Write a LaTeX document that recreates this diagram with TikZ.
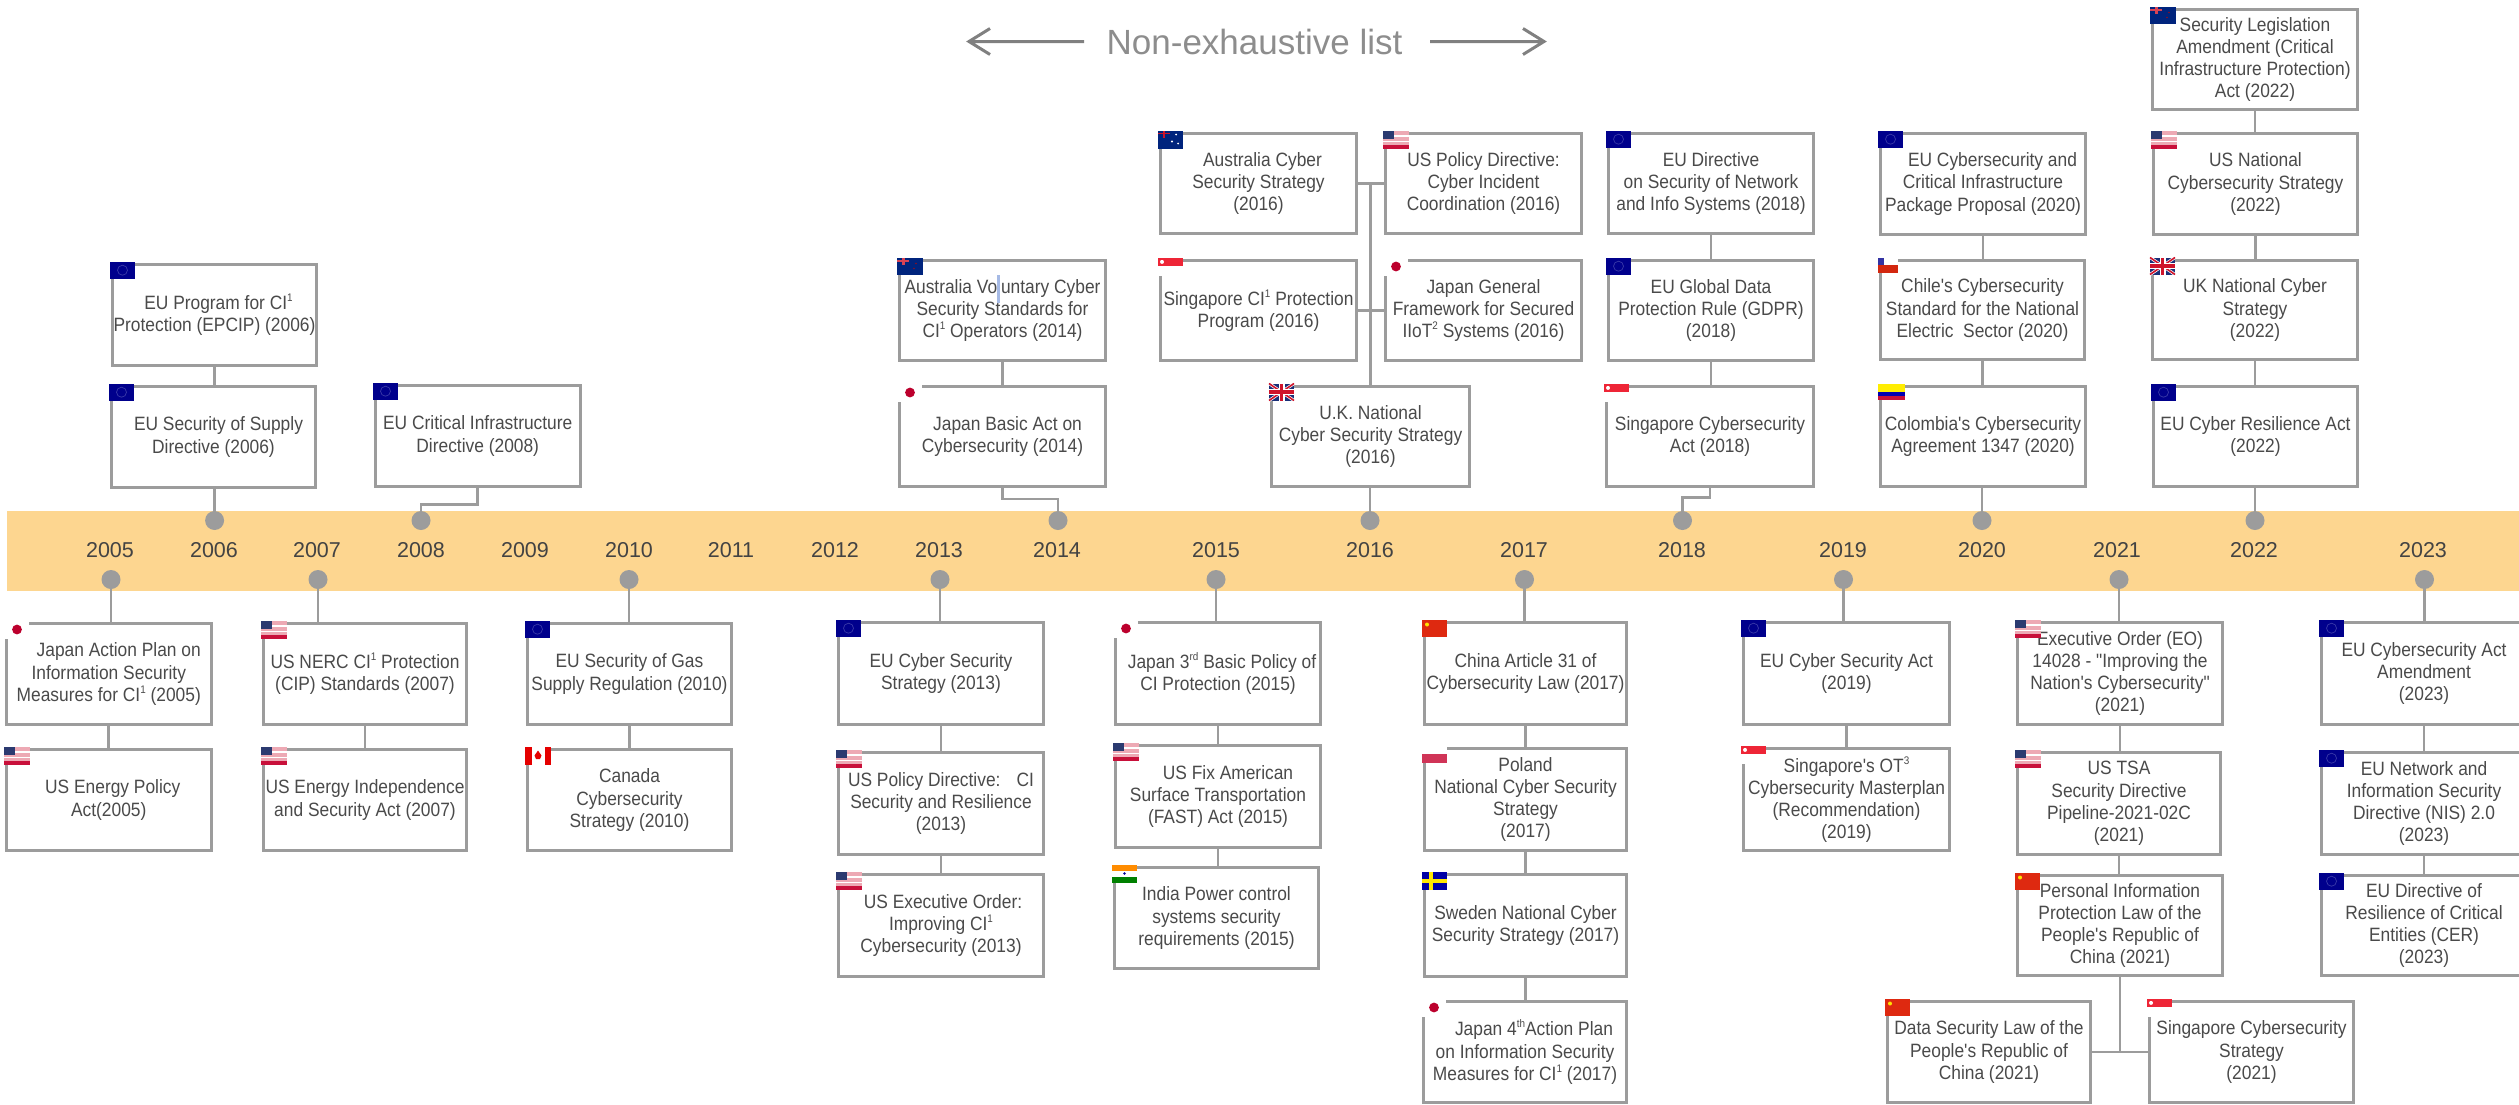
\documentclass[tikz,border=0pt]{standalone}
\usepackage{fontspec}
\setmainfont{Liberation Sans}
\newfontfamily\boxfont[FakeStretch=0.9]{Liberation Sans}
\newfontfamily\yearfont{Liberation Sans}
\newfontfamily\titlefont{Liberation Sans}
\definecolor{bandc}{HTML}{FDD690}
\definecolor{linec}{HTML}{9C9C9C}
\definecolor{txtc}{HTML}{4A4A4A}
\definecolor{eublue}{HTML}{00008C}
\definecolor{eustar}{HTML}{3A3AA8}
\definecolor{usred}{HTML}{C8103A}
\definecolor{uspink}{HTML}{EDA9B4}
\definecolor{usblue}{HTML}{2B3A70}
\definecolor{jpred}{HTML}{BC002D}
\definecolor{sgred}{HTML}{EE2536}
\definecolor{cnred}{HTML}{DE2910}
\definecolor{aublue}{HTML}{00247D}
\definecolor{ukblue}{HTML}{1A2F78}
\definecolor{ukred}{HTML}{CF142B}
\tikzset{
  x=1pt,y=-1pt,
  pbox/.style={draw=linec,line width=2.8pt,fill=white,inner sep=0pt,align=center,text=txtc,
    font=\boxfont\fontsize{19.3}{22.2}\selectfont},
  conn/.style={draw=linec,line width=2.6pt},
  dotm/.style={circle,fill=linec,draw=none,minimum size=19pt,inner sep=0pt},
  yearlab/.style={text=txtc!90!black,inner sep=0pt,font=\yearfont\fontsize{21.5}{24}\selectfont},
  flageu/.pic={\fill[eublue](0,0)rectangle(25,17.5);\draw[eustar,line width=.7pt](12.5,8.7)circle[radius=5];},
  flagus/.pic={\fill[uspink](0,0)rectangle(25.5,18);\fill[white](0,4.4)rectangle(25.5,6.2);\fill[white](0,10)rectangle(25.5,11.8);\fill[usred](0,14.5)rectangle(25.5,18);\fill[usblue](0,0)rectangle(10.5,8.5);},
  flagjp/.pic={\fill[white](0,0)rectangle(25,18);\fill[jpred](13,9)circle[radius=4.9];},
  flagsg/.pic={\fill[white](0,0)rectangle(25,18);\fill[sgred](0,0)rectangle(25,8.8);\fill[white](4,4.4)circle[radius=2];},
  flagcn/.pic={\fill[cnred](0,0)rectangle(25,17.5);\fill[yellow!85!orange](5,5)circle[radius=2];},
  flagpl/.pic={\fill[white](0,0)rectangle(25,8.5);\fill[usred!85!white](0,8.5)rectangle(25,17);},
  flagcl/.pic={\fill[white](0,0)rectangle(20,7.5);\fill[cnred!95!black](0,7.5)rectangle(20,15);\fill[eublue!80!white](0,0)rectangle(6,7.5);},
  flagco/.pic={\fill[yellow!95!orange](0,0)rectangle(27,8);\fill[blue!70!black](0,8)rectangle(27,12);\fill[usred](0,12)rectangle(27,16);},
  flagca/.pic={\fill[white](0,0)rectangle(26,18);\fill[red!90!black](0,0)rectangle(6.5,18);\fill[red!90!black](19.5,0)rectangle(26,18);\fill[red!90!black](13,4)--(16.5,9)--(15,12.5)--(11,12.5)--(9.5,9)--cycle;},
  flagin/.pic={\fill[orange!90!yellow](0,0)rectangle(25,6);\fill[white](0,6)rectangle(25,12);\fill[green!50!black](0,12)rectangle(25,18);\fill[blue!60!black](12.5,9)circle[radius=1.4];},
  flagse/.pic={\fill[blue!65!black](0,0)rectangle(25,18);\fill[yellow!90!orange](7,0)rectangle(11,18);\fill[yellow!90!orange](0,7)rectangle(25,11);},
  flaguk/.pic={\fill[ukblue](0,0)rectangle(25,17);\draw[white,line width=3pt](0,0)--(25,17)(25,0)--(0,17);\draw[ukred,line width=1.6pt](0,0)--(25,17)(25,0)--(0,17);\fill[white](9.5,0)rectangle(15.5,17);\fill[white](0,5.5)rectangle(25,11.5);\fill[ukred](10.7,0)rectangle(14.3,17);\fill[ukred](0,6.7)rectangle(25,10.3);},
  flagau/.pic={\fill[aublue](0,0)rectangle(25,18);\fill[ukred](0,2.2)rectangle(12,3.8);\fill[ukred](5,0)rectangle(7,7);\fill[white](18,4)circle[radius=1];\fill[white](14,11)circle[radius=1.2];\fill[white](20,13)circle[radius=1];},
  flagnz/.pic={\fill[aublue](0,0)rectangle(25.5,17.5);\fill[ukred!80!white](0,2.2)rectangle(12,4);\fill[ukred!80!white](5,0)rectangle(7.5,7);\fill[ukred!70!black](19,6)circle[radius=.8];\fill[ukred!70!black](17,11)circle[radius=.8];},
}
\newcommand{\spr}[1]{\raisebox{.42em}{\fontsize{11}{11}\selectfont #1}}
\newcommand{\pb}[7]{%
  \pgfmathsetmacro\cbx{(#2+#4)/2}\pgfmathsetmacro\cby{(#3+#5)/2}%
  \pgfmathsetmacro\cbw{#4-#2-2.8}\pgfmathsetmacro\cbh{#5-#3-2.8}%
  \node[pbox,minimum width=\cbw pt,minimum height=\cbh pt] (#1) at (\cbx,\cby) {#7};%
  \pic at (#2-1,#3-1.5) {#6};%
}
\newcommand{\yr}[2]{\node[yearlab] (y#1) at (#2,550) {#1};}
\begin{document}
\begin{tikzpicture}
\useasboundingbox (0,0) rectangle (2519,1104);
% band
\fill[bandc] (7,510.5) rectangle (2519,591);
% title
\node[inner sep=0pt,text=linec!90!black,font=\titlefont\fontsize{35}{40}\selectfont] (title) at (1254.5,41.5) {Non-exhaustive list};
\coordinate (al1) at (969,41.5);\coordinate (al2) at (1084,41.5);
\coordinate (ar1) at (1430,41.5);\coordinate (ar2) at (1544,41.5);
\draw[draw=gray,line width=3pt,line join=miter] (al2)--(al1) ++(21,-13) -- (al1) -- ++(21,13);
\draw[draw=gray,line width=3pt,line join=miter] (ar1)--(ar2) ++(-21,-13) -- (ar2) -- ++(-21,13);
% year labels
\yr{2005}{110}\yr{2006}{214}\yr{2007}{317}\yr{2008}{421}\yr{2009}{525}\yr{2010}{629}\yr{2011}{731}\yr{2012}{835}
\yr{2013}{939}\yr{2014}{1057}\yr{2015}{1216}\yr{2016}{1370}\yr{2017}{1524}\yr{2018}{1682}\yr{2019}{1843}
\yr{2020}{1982}\yr{2021}{2117}\yr{2022}{2254}\yr{2023}{2423}
% dots above
\foreach \n/\xx in {u2006/214.6,u2008/421,u2014/1058,u2016/1370,u2018/1682.5,u2020/1982,u2022/2255}
  \node[dotm] (\n) at (\xx,520.5) {};
\foreach \n/\xx in {l2005/111,l2007/318,l2010/629,l2013/940,l2015/1216,l2017/1524.5,l2019/1843.5,l2021/2119,l2023/2424.5}
  \node[dotm] (\n) at (\xx,579.5) {};
% upper boxes
\pb{epcip}{111}{263}{318}{367}{flageu}{\hspace*{8pt}EU Program for CI\spr{1}\\Protection (EPCIP) (2006)}
\pb{supply}{110}{385}{317}{489}{flageu}{\hspace*{10pt}EU Security of Supply\\Directive (2006)}
\pb{cid}{374}{384}{581.5}{488}{flageu}{EU Critical Infrastructure\\Directive (2008)}
\pb{auvol}{898}{259}{1107}{362}{flagnz}{Australia Voluntary Cyber\\Security Standards for\\CI\spr{1} Operators (2014)}
\pb{jpbasic}{898}{385}{1107}{488}{flagjp}{\hspace*{10pt}Japan Basic Act on\\Cybersecurity (2014)}
\pb{aucyber}{1159}{132}{1358}{235}{flagau}{\hspace*{8pt}Australia Cyber\\Security Strategy\\(2016)}
\pb{uspol}{1384}{132}{1583}{235}{flagus}{US Policy Directive:\\Cyber Incident\\Coordination (2016)}
\pb{sgci}{1159}{259}{1358}{362}{flagsg}{Singapore CI\spr{1} Protection\\Program (2016)}
\pb{jpgen}{1384}{259}{1583}{362}{flagjp}{Japan General\\Framework for Secured\\IIoT\spr{2} Systems (2016)}
\pb{ukstrat}{1270}{385}{1471}{488}{flaguk}{U.K. National\\Cyber Security Strategy\\(2016)}
\pb{eunis}{1607}{132}{1815}{235}{flageu}{EU Directive\\on Security of Network\\and Info Systems (2018)}
\pb{gdpr}{1607}{259}{1815}{362}{flageu}{EU Global Data\\Protection Rule (GDPR)\\(2018)}
\pb{sgact}{1605}{385}{1815}{488}{flagsg}{Singapore Cybersecurity\\Act (2018)}
\pb{eucip}{1879}{132}{2087}{236}{flageu}{\hspace*{19pt}EU Cybersecurity and\\Critical Infrastructure\\Package Proposal (2020)}
\pb{chile}{1879}{259}{2086}{361}{flagcl}{Chile's Cybersecurity\\Standard for the National\\Electric~ Sector (2020)}
\pb{colombia}{1879}{385}{2087}{488}{flagco}{Colombia's Cybersecurity\\Agreement 1347 (2020)}
\pb{secleg}{2151}{8}{2359}{111}{flagnz}{Security Legislation\\Amendment (Critical\\Infrastructure Protection)\\Act (2022)}
\pb{usnat}{2152}{132}{2359}{236}{flagus}{US National\\Cybersecurity Strategy\\(2022)}
\pb{uknat}{2151}{259}{2359}{361}{flaguk}{UK National Cyber\\Strategy\\(2022)}
\pb{eures}{2152}{385}{2359}{488}{flageu}{EU Cyber Resilience Act\\(2022)}
% lower boxes
\pb{jpaction}{5}{622}{212.5}{726}{flagjp}{\hspace*{20pt}Japan Action Plan on\\Information Security\\Measures for CI\spr{1} (2005)}
\pb{usenergy}{5}{748}{212.5}{852}{flagus}{\hspace*{8pt}US Energy Policy\\Act(2005)}
\pb{nerc}{262}{622}{468}{726}{flagus}{US NERC CI\spr{1} Protection\\(CIP) Standards (2007)}
\pb{usindep}{262}{748}{468}{852}{flagus}{US Energy Independence\\and Security Act (2007)}
\pb{eugas}{526}{622}{733}{726}{flageu}{EU Security of Gas\\Supply Regulation (2010)}
\pb{canada}{526}{748}{733}{852}{flagca}{Canada\\Cybersecurity\\Strategy (2010)}
\pb{eustrat}{837}{621}{1045}{726}{flageu}{EU Cyber Security\\Strategy (2013)}
\pb{uspolci}{837}{751}{1045}{856}{flagus}{US Policy Directive:~~ CI\\Security and Resilience\\(2013)}
\pb{usexec}{837}{873}{1045}{978}{flagus}{\hspace*{4pt}US Executive Order:\\Improving CI\spr{1}\\Cybersecurity (2013)}
\pb{jp3}{1114}{621}{1322}{726}{flagjp}{\hspace*{8pt}Japan 3\spr{rd} Basic Policy of\\CI Protection (2015)}
\pb{usfix}{1114}{744}{1322}{849}{flagus}{\hspace*{20pt}US Fix American\\Surface Transportation\\(FAST) Act (2015)}
\pb{india}{1113}{866}{1320}{970}{flagin}{India Power control\\systems security\\requirements (2015)}
\pb{china31}{1423}{621}{1628}{726}{flagcn}{China Article 31 of\\Cybersecurity Law (2017)}
\pb{poland}{1423}{747}{1628}{852}{flagpl}{Poland\\National Cyber Security\\Strategy\\(2017)}
\pb{sweden}{1423}{873}{1628}{978}{flagse}{Sweden National Cyber\\Security Strategy (2017)}
\pb{jp4}{1422}{1000}{1628}{1104}{flagjp}{\hspace*{18pt}Japan 4\spr{th}Action Plan\\on Information Security\\Measures for CI\spr{1} (2017)}
\pb{eucsa}{1742}{621}{1951}{726}{flageu}{EU Cyber Security Act\\(2019)}
\pb{sgot}{1742}{747}{1951}{852}{flagsg}{Singapore's OT\spr{3}\\Cybersecurity Masterplan\\(Recommendation)\\(2019)}
\pb{eo}{2016}{621}{2224}{726}{flagus}{Executive Order (EO)\\14028 - "Improving the\\Nation's Cybersecurity"\\(2021)}
\pb{tsa}{2016}{751}{2222}{856}{flagus}{US TSA\\Security Directive\\Pipeline-2021-02C\\(2021)}
\pb{pipl}{2016}{874}{2224}{977}{flagcn}{Personal Information\\Protection Law of the\\People's Republic of\\China (2021)}
\pb{dsl}{1886}{1000}{2092}{1104}{flagcn}{Data Security Law of the\\People's Republic of\\China (2021)}
\pb{sgstrat}{2148}{1000}{2355}{1104}{flagsg}{Singapore Cybersecurity\\Strategy\\(2021)}
\pb{euamend}{2320}{621}{2528}{726}{flageu}{EU Cybersecurity Act\\Amendment\\(2023)}
\pb{eunis2}{2320}{751}{2528}{856}{flageu}{EU Network and\\Information Security\\Directive (NIS) 2.0\\(2023)}
\pb{cer}{2320}{874}{2528}{977}{flageu}{EU Directive of\\Resilience of Critical\\Entities (CER)\\(2023)}
% connectors
\draw[conn] (epcip.south) -- (epcip.south |- supply.north);
\draw[conn] (u2006.center) -- (u2006 |- supply.south);
\draw[conn] (cid.south) -- ++(0,16.5) -| (u2008.center);
\draw[conn] (auvol.south) -- (auvol.south |- jpbasic.north);
\draw[conn] (jpbasic.south) -- ++(0,11) -| (u2014.center);
\draw[conn] (aucyber.east) -- (uspol.west);
\draw[conn] (sgci.east) -- (jpgen.west);
\coordinate (vtop) at (ukstrat.north |- uspol.west);
\draw[conn] (vtop) -- (ukstrat.north);
\draw[conn] (u2016.center) -- (u2016 |- ukstrat.south);
\draw[conn] (eunis.south) -- (eunis.south |- gdpr.north);
\draw[conn] (gdpr.south) -- (gdpr.south |- sgact.north);
\draw[conn] (sgact.south) -- ++(0,9.5) -| (u2018.center);
\draw[conn] (eucip.south) -- (eucip.south |- chile.north);
\draw[conn] (chile.south) -- (chile.south |- colombia.north);
\draw[conn] (u2020.center) -- (u2020 |- colombia.south);
\draw[conn] (secleg.south) -- (secleg.south |- usnat.north);
\draw[conn] (usnat.south) -- (usnat.south |- uknat.north);
\draw[conn] (uknat.south) -- (uknat.south |- eures.north);
\draw[conn] (u2022.center) -- (u2022 |- eures.south);
\draw[conn] (l2005.center) -- (l2005 |- jpaction.north);
\draw[conn] (jpaction.south) -- (jpaction.south |- usenergy.north);
\draw[conn] (l2007.center) -- (l2007 |- nerc.north);
\draw[conn] (nerc.south) -- (nerc.south |- usindep.north);
\draw[conn] (l2010.center) -- (l2010 |- eugas.north);
\draw[conn] (eugas.south) -- (eugas.south |- canada.north);
\draw[conn] (l2013.center) -- (l2013 |- eustrat.north);
\draw[conn] (eustrat.south) -- (eustrat.south |- uspolci.north);
\draw[conn] (uspolci.south) -- (uspolci.south |- usexec.north);
\draw[conn] (l2015.center) -- (l2015 |- jp3.north);
\draw[conn] (jp3.south) -- (jp3.south |- usfix.north);
\draw[conn] (usfix.south) -- (usfix.south |- india.north);
\draw[conn] (l2017.center) -- (l2017 |- china31.north);
\draw[conn] (china31.south) -- (china31.south |- poland.north);
\draw[conn] (poland.south) -- (poland.south |- sweden.north);
\draw[conn] (sweden.south) -- (sweden.south |- jp4.north);
\draw[conn] (l2019.center) -- (l2019 |- eucsa.north);
\draw[conn] (eucsa.south) -- (eucsa.south |- sgot.north);
\draw[conn] (l2021.center) -- (l2021 |- eo.north);
\draw[conn] (eo.south) -- (eo.south |- tsa.north);
\draw[conn] (tsa.south) -- (tsa.south |- pipl.north);
\coordinate (pj) at (pipl.south |- dsl.east);
\draw[conn] (pipl.south) -- (pj);
\draw[conn] (dsl.east) -- (sgstrat.west);
\draw[conn] (l2023.center) -- (l2023 |- euamend.north);
\draw[conn] (euamend.south) -- (euamend.south |- eunis2.north);
\draw[conn] (eunis2.south) -- (eunis2.south |- cer.north);
% text-cursor mark in the Voluntary label
\fill[cyan!45!blue!35] (997,275) rectangle (999.5,303);
\end{tikzpicture}
\end{document}
